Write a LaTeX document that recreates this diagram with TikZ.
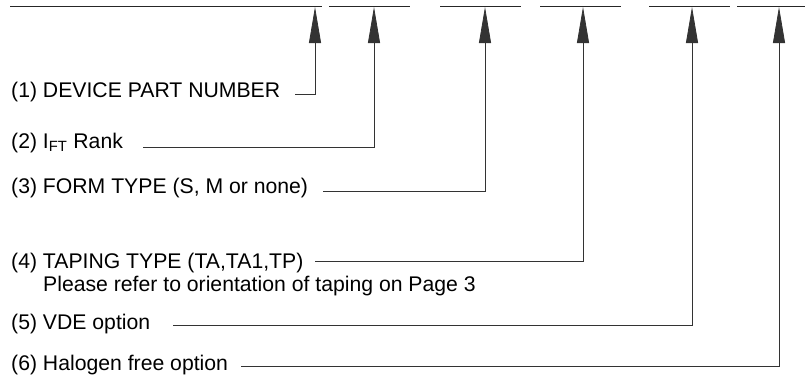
\documentclass[tikz,border=0pt]{standalone}
\usepackage{fontspec}
\setmainfont{Liberation Sans}
\usetikzlibrary{arrows.meta}
\tikzset{
  itemtext/.style={anchor=base west, inner sep=0pt, font=\fontsize{21.2}{25}\selectfont},
  lead/.style={line width=0.8pt, black!80, -{Triangle[length=36pt,width=12pt]}},
  bar/.style={line width=0.9pt, black!85}
}
\begin{document}
\begin{tikzpicture}[x=1pt,y=-1pt]
    \useasboundingbox (0,0) rectangle (805,376);
    % Segmenti del codice articolo
    \foreach \a/\b in {10/322, 329/410, 440/521, 540/621, 649/730, 737/805}
        \draw[bar] (\a,6.5) -- (\b,6.5);
    \coordinate (tip1) at (315,7);
    \coordinate (tip2) at (374,7);
    \coordinate (tip3) at (485,7);
    \coordinate (tip4) at (583,7);
    \coordinate (tip5) at (692,7);
    \coordinate (tip6) at (779,7);

    % Voci della legenda
    \node[itemtext] (t1) at (11,97) {(1) DEVICE PART NUMBER};
    \node[itemtext] (t2) at (11,148) {(2) I\textsubscript{FT} Rank};
    \node[itemtext] (t3) at (11,193) {(3) FORM TYPE (S, M or none)};
    \node[itemtext] (t4) at (11,268) {(4) TAPING TYPE (TA,TA1,TP)};
    \node[itemtext] (t4b) at (43,291) {Please refer to orientation of taping on Page 3};
    \node[itemtext] (t5) at (11,329) {(5) VDE option};
    \node[itemtext] (t6) at (11,370) {(6) Halogen free option};

    % Linee di richiamo
    \coordinate (s1) at (295,94);
    \coordinate (s2) at (143,147);
    \coordinate (s3) at (323,191);
    \coordinate (s4) at (315,261);
    \coordinate (s5) at (173,325);
    \coordinate (s6) at (241,366);
    \foreach \i in {1,...,6}
        \draw[lead] (s\i) -| (tip\i);
\end{tikzpicture}
\end{document}
